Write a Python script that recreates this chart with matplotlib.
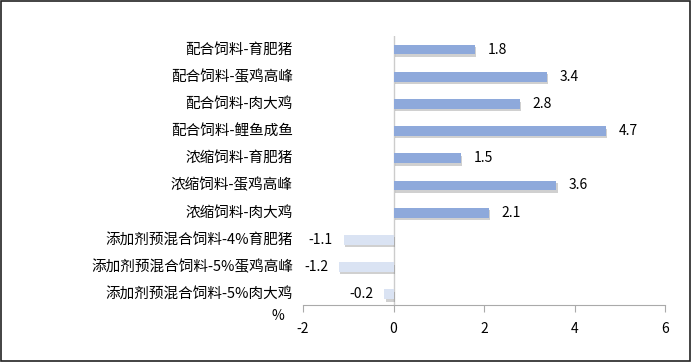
import matplotlib
matplotlib.use("Agg")
import matplotlib.pyplot as plt
import matplotlib.patheffects as pe
from matplotlib.patches import Rectangle

plt.rcParams['font.family'] = ['Noto Sans CJK SC', 'DejaVu Sans']

categories = ["配合饲料-育肥猪", "配合饲料-蛋鸡高峰", "配合饲料-肉大鸡", "配合饲料-鲤鱼成鱼",
              "浓缩饲料-育肥猪", "浓缩饲料-蛋鸡高峰", "浓缩饲料-肉大鸡",
              "添加剂预混合饲料-4%育肥猪", "添加剂预混合饲料-5%蛋鸡高峰", "添加剂预混合饲料-5%肉大鸡"]
values = [1.8, 3.4, 2.8, 4.7, 1.5, 3.6, 2.1, -1.1, -1.2, -0.2]
xticks = [-2, 0, 2, 4, 6]
unit_label = "%"

fig = plt.figure(figsize=(6.91, 3.62), dpi=100)
ax = fig.add_axes([303/691, 1-305/362, (665-303)/691, (305-36)/362])

pos = list(range(len(categories)))
colors = ['#8EA9DB' if v >= 0 else '#DAE3F3' for v in values]
bars = ax.barh(pos, values, height=0.36, color=colors, zorder=3)
for b in bars:
    b.set_path_effects([pe.SimplePatchShadow(offset=(0.8, -1.8), shadow_rgbFace='#666666', alpha=0.3), pe.Normal()])

ax.set_xlim(-2, 6)
ax.set_ylim(9.4, -0.5)
ax.set_xticks(xticks)
ax.set_xticklabels([str(t) for t in xticks], fontsize=10)
ax.set_yticks([])
for s in ['top', 'right', 'left']:
    ax.spines[s].set_visible(False)
ax.spines['bottom'].set_color('#AAAAAA')
ax.tick_params(axis='x', direction='out', length=5, color='#AAAAAA', pad=7)
ax.axvline(0, color='#CCCCCC', lw=1, zorder=2)

for p, v, c in zip(pos, values, categories):
    if v >= 0:
        ax.annotate(f"{v:.1f}", (v, p), xytext=(9, 0), textcoords='offset points',
                    ha='left', va='center', fontsize=10)
    else:
        ax.annotate(f"{v:.1f}", (v, p), xytext=(-8, 0), textcoords='offset points',
                    ha='right', va='center', fontsize=10)
    ax.annotate(c, (0, p), xycoords=('figure fraction', 'data'),
                xytext=(293, 0), textcoords='offset pixels',
                ha='right', va='center', fontsize=10.5)

fig.text(278/691, 1-316/362, unit_label, ha='center', va='center', fontsize=10)

fig.patches.append(Rectangle((0.001, 0.002), 0.997, 0.995, transform=fig.transFigure,
                             fill=False, edgecolor='#222222', lw=1.2))

fig.savefig("out.png", dpi=100)
